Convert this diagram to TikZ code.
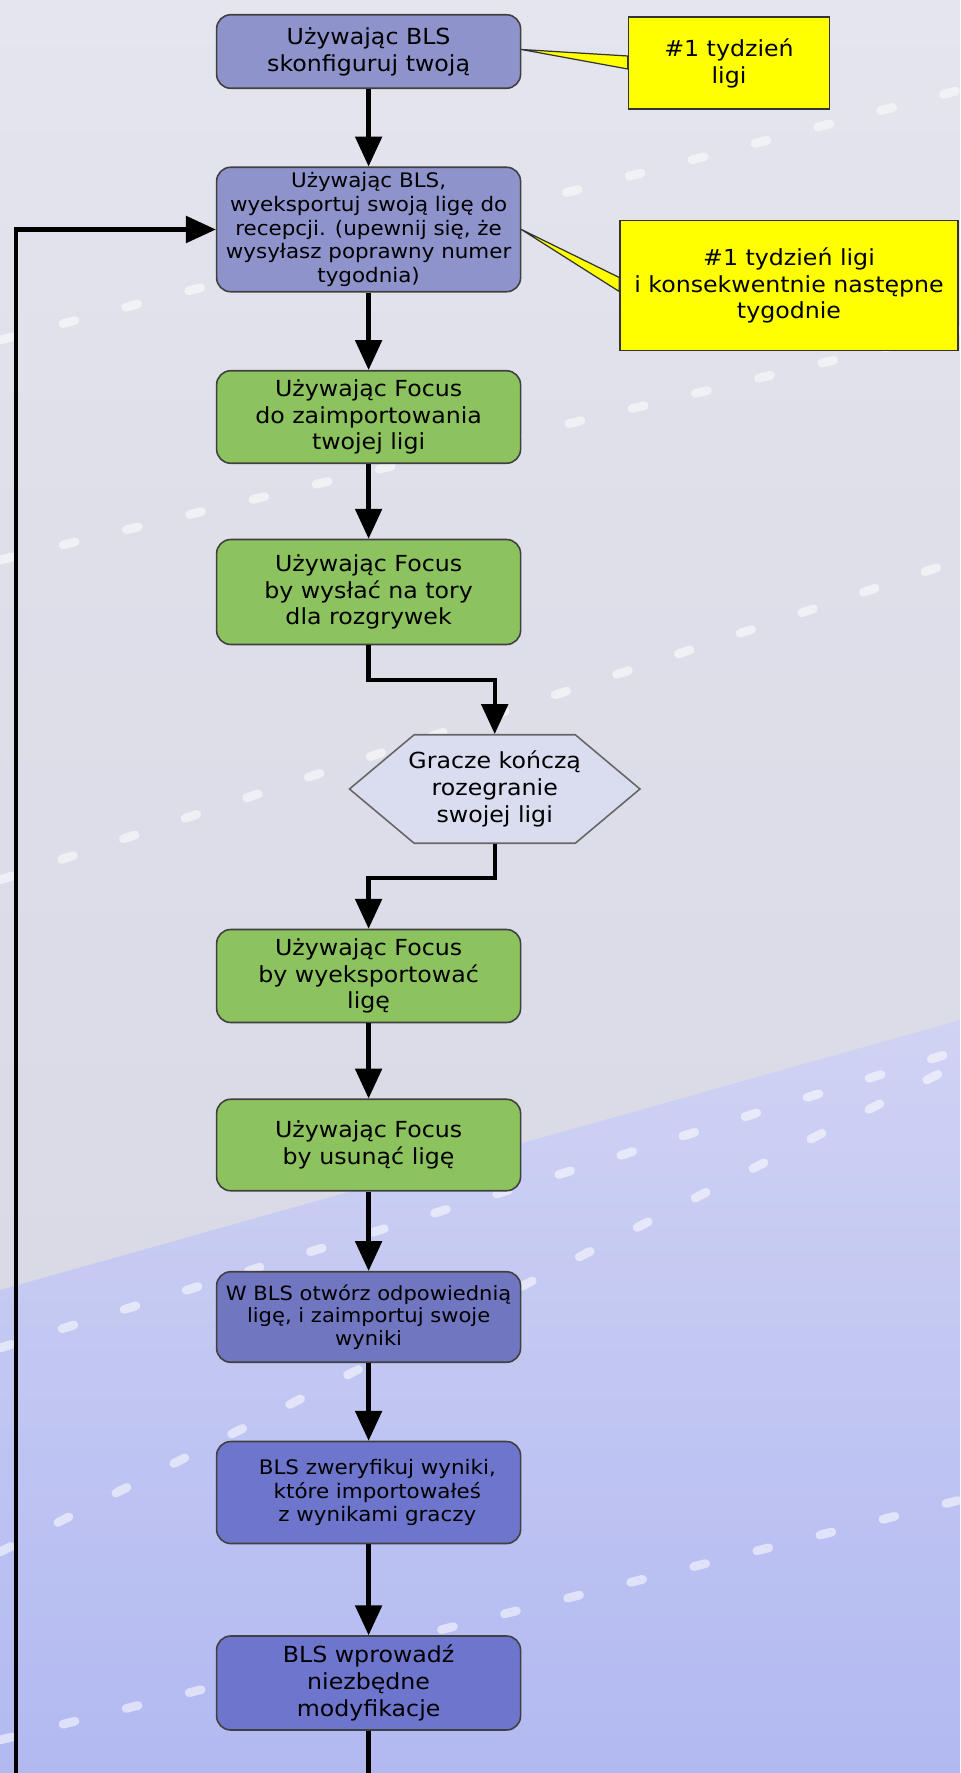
\documentclass[tikz,border=0pt]{standalone}
\usepackage{fontspec}
\setmainfont{DejaVu Sans}[FakeStretch=1.07]
\usetikzlibrary{arrows.meta,shapes.symbols,calc}

\definecolor{lavbox}{HTML}{8F93CB}
\definecolor{darkbox}{HTML}{7176C0}
\definecolor{periwink}{HTML}{6E75CD}
\definecolor{grnbox}{HTML}{8DC35E}
\definecolor{hexfill}{HTML}{DADDF0}
\definecolor{notefill}{HTML}{FFFF00}
\definecolor{lanetop}{HTML}{CDD1F6}
\definecolor{lanebot}{HTML}{A9B2F4}
\definecolor{hallA}{HTML}{D3D4E6}
\definecolor{hallB}{HTML}{D8D8E6}
\definecolor{hallC}{HTML}{DFDFEA}
\definecolor{hallD}{HTML}{E9E9F1}
\definecolor{hallE}{HTML}{F4F4F8}

\pgfdeclareverticalshading{hall}{100bp}{
  color(0bp)=(hallA); color(30bp)=(hallB); color(60bp)=(hallC);
  color(85bp)=(hallD); color(100bp)=(hallE)}

\newcommand\bigtxt{\fontsize{12.6}{15.3}\selectfont}
\newcommand\smalltxt{\fontsize{11.4}{13.6}\selectfont}
\newcommand\midtxt{\fontsize{11.2}{12.8}\selectfont}

\begin{document}
\begin{tikzpicture}[x=0.02cm, y=-0.02cm,
  stepbox/.style={draw=black!75, line width=0.9pt, rounded corners=8pt,
    minimum width=6.08cm, align=center, inner sep=2pt},
  bluebox/.style={stepbox, fill=lavbox},
  deepbox/.style={stepbox, fill=darkbox},
  perbox/.style={stepbox, fill=periwink},
  greenbox/.style={stepbox, fill=grnbox, font=\bigtxt},
  hexbox/.style={draw=black!60, line width=0.9pt, fill=hexfill, signal, signal to=east and west,
    signal pointer angle=80, minimum width=5.81cm, minimum height=2.17cm, align=center,
    inner xsep=-8pt, inner ysep=1pt, font=\bigtxt},
  note/.style={draw=black!80, line width=0.9pt, fill=notefill, align=center, font=\bigtxt},
  flow/.style={line width=2.4pt, -{Triangle[width=15pt, length=17pt]}},
  ptr/.style={draw=black!80, line width=0.7pt, fill=notefill, line join=round},
  lights/.style={white, opacity=0.55, line width=5pt, line cap=round, dash pattern=on 7pt off 30pt}
]
\useasboundingbox (0,0) rectangle (960,1773);
\clip (0,0) rectangle (960,1773);
% background: bowling hall with lanes
\shade[shading=hall] (0,0) rectangle (960,1773);
\shade[top color=lanetop, bottom color=lanebot, opacity=0.8]
  (0,1290) -- (960,1020) -- (960,1773) -- (0,1773) -- cycle;
\foreach \ya/\yb in {340/90, 560/330, 880/560, 1348/1050, 1552/1063, 1740/1500}
  \draw[lights] (0,\ya) -- (960,\yb);

% steps
\node[bluebox, minimum height=1.47cm, font=\bigtxt] (setup) at (368.6,51.5) {Używając BLS\\skonfiguruj twoją};
\node[bluebox, minimum height=2.49cm, font=\smalltxt] (export) at (368.6,229.5)
  {Używając BLS,\\wyeksportuj swoją ligę do\\recepcji. (upewnij się, że\\wysyłasz poprawny numer\\tygodnia)};
\node[greenbox, minimum height=1.85cm] (import) at (368.6,417) {Używając Focus\\do zaimportowania\\twojej ligi};
\node[greenbox, minimum height=2.1cm] (send) at (368.6,592) {Używając Focus\\by wysłać na tory\\dla rozgrywek};
\node[hexbox] (play) at (494.7,789) {Gracze kończą\\rozegranie\\swojej ligi};
\node[greenbox, minimum height=1.86cm] (fexport) at (368.6,976) {Używając Focus\\by wyeksportować\\ligę};
\node[greenbox, minimum height=1.83cm] (remove) at (368.6,1145) {Używając Focus\\by usunąć ligę};
\node[deepbox, minimum height=1.81cm, font=\midtxt] (open) at (368.6,1317)
  {W BLS otwórz odpowiednią\\ligę, i zaimportuj swoje\\wyniki};
\node[perbox, minimum height=2.04cm, font=\smalltxt] (verify) at (368.6,1492.5)
  {\hspace*{0.35cm}BLS zweryfikuj wyniki,\\\hspace*{0.35cm}które importowałeś\\\hspace*{0.35cm}z wynikami graczy};
\node[perbox, minimum height=1.88cm, font=\bigtxt] (modify) at (368.6,1683) {BLS wprowadź\\niezbędne\\modyfikacje};

% notes
\node[note, minimum width=4.02cm, minimum height=1.85cm] (week1) at (729,63) {\#1 tydzień\\ligi};
\node[note, minimum width=6.76cm, minimum height=2.6cm] (weekn) at (789,285.5)
  {\#1 tydzień ligi\\i konsekwentnie następne\\tygodnie};
\filldraw[ptr] ($(setup.east)+(0,-2)$) -- ($(week1.west)+(0,-7)$) -- ($(week1.west)+(0,6)$) -- cycle;
\filldraw[ptr] (export.east) -- ($(weekn.west)+(0,-8)$) -- ($(weekn.west)+(0,6)$) -- cycle;

% flow
\draw[flow] (setup) -- (export);
\draw[flow] (export) -- (import);
\draw[flow] (import) -- (send);
\draw[flow] (send.south) -- ++(0,35) -| (play.north);
\draw[flow] (play.south) -- ++(0,34) -| (fexport.north);
\draw[flow] (fexport) -- (remove);
\draw[flow] (remove) -- (open);
\draw[flow] (open) -- (verify);
\draw[flow] (verify) -- (modify);
\coordinate (loopbot) at (15.8,1820);
\draw[flow] (modify.south) |- (loopbot) |- (export.west);
\end{tikzpicture}
\end{document}
